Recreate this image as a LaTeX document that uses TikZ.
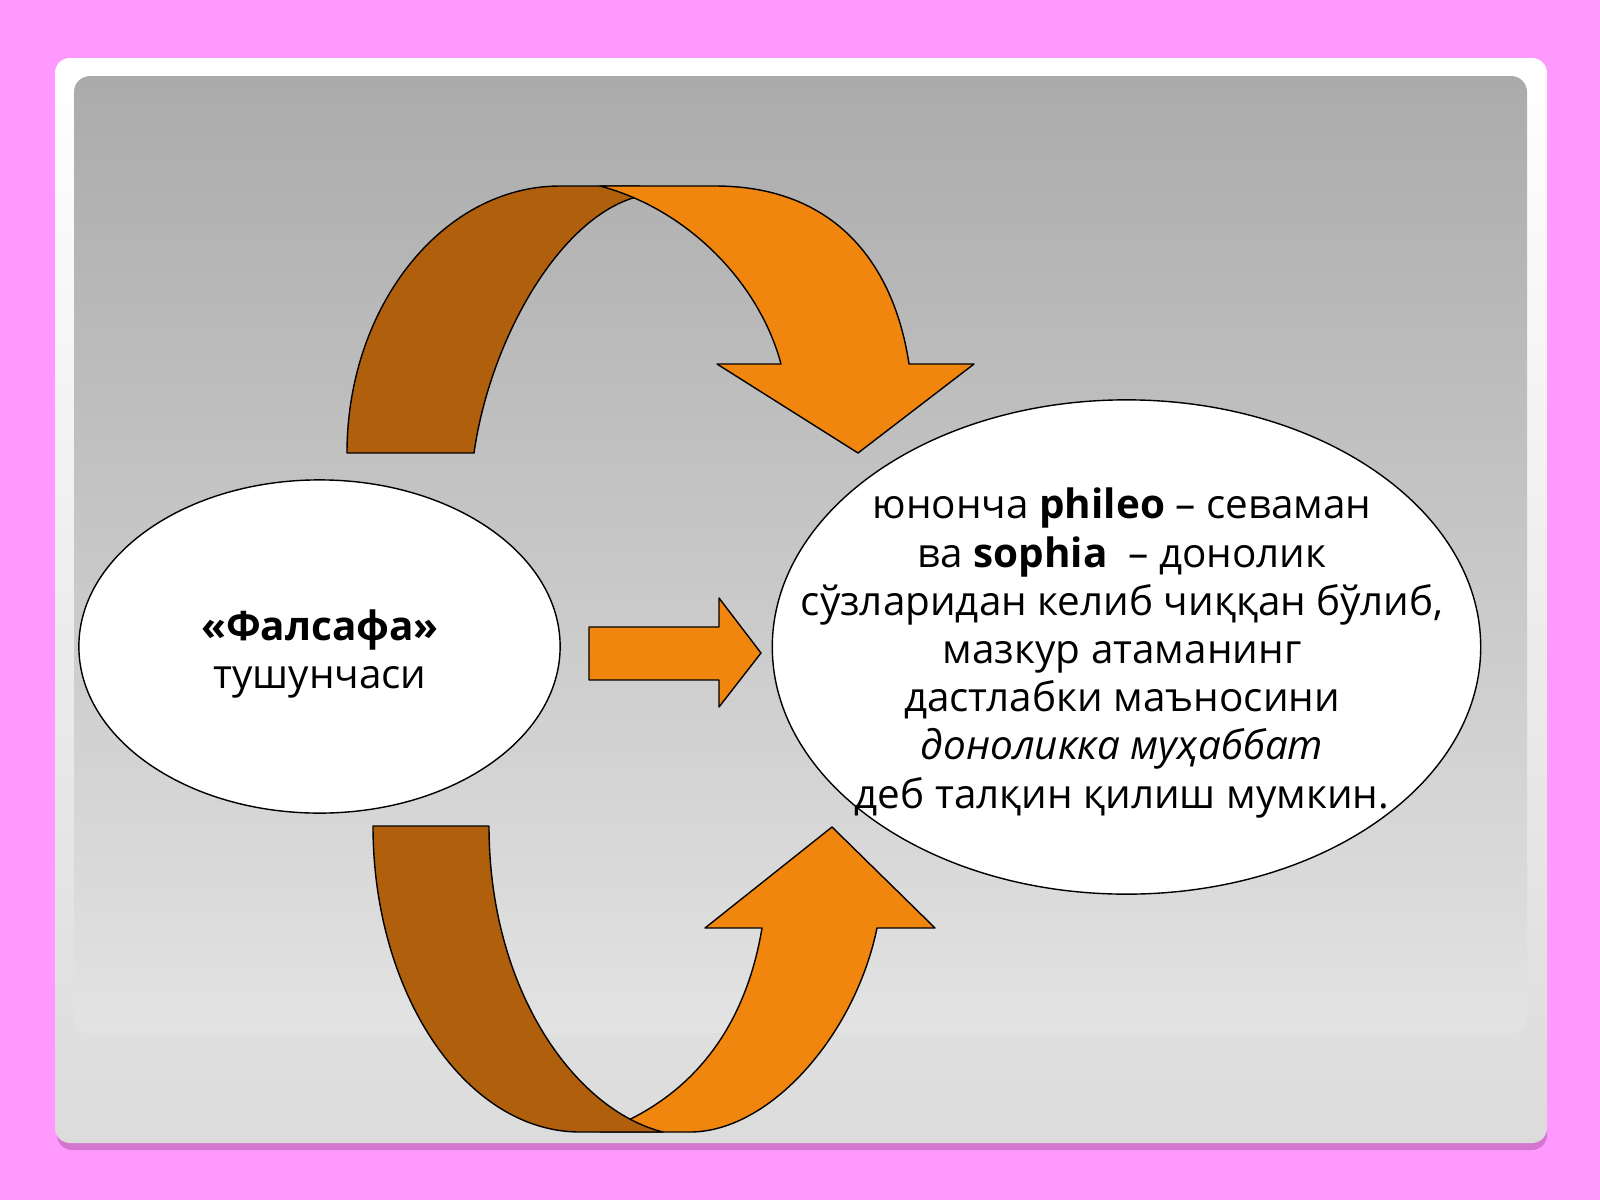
\documentclass[tikz,border=0pt]{standalone}
\usepackage{fontspec}
\setmainfont{Open Sans}
\usetikzlibrary{shapes.geometric}
\definecolor{slidepink}{RGB}{255,153,255}
\definecolor{pinkshadow}{RGB}{212,118,208}
\definecolor{bandlight}{RGB}{240,134,14}
\definecolor{banddark}{RGB}{176,96,12}
\begin{document}
\begin{tikzpicture}[x=0.01cm,y=-0.01cm,
    band/.style={draw=black,line width=0.4pt,line join=round},
    oval/.style={ellipse,draw=black,fill=white,line width=0.4pt,inner sep=0pt},
    txt/.style={align=center,inner sep=0pt,font=\fontsize{11.5}{13.7}\selectfont}]
    \useasboundingbox (0,0) rectangle (1600,1200);
    \fill[slidepink] (0,0) rectangle (1600,1200);
    \fill[pinkshadow,rounded corners=0.15cm] (57,64) rectangle (1547,1150);
    \shade[top color=white,bottom color=gray!28,rounded corners=0.15cm] (55,58) rectangle (1547,1143);
    \shade[top color=gray!66,bottom color=gray!22,rounded corners=0.16cm] (74,76) rectangle (1527,1033);
    \draw[band,fill=banddark] (347,453) -- (474,453) .. controls (490,340) and (560,215) .. (640,196)
        -- (640,186) -- (560,186) .. controls (443,186) and (347,306) .. (347,453) -- cycle;
    \draw[band,fill=bandlight] (600,186) -- (715,186) .. controls (840,186) and (895,270) .. (909,364)
        -- (974,364) -- (858,453) -- (717,364) -- (781,364) .. controls (760,285) and (690,210) .. (600,186) -- cycle;
    \draw[band,fill=bandlight] (600,1132) -- (690,1132) .. controls (770,1132) and (855,1035) .. (877,928)
        -- (935,928) -- (832,827) -- (705,928) -- (762,928) .. controls (745,1030) and (690,1100) .. (600,1132) -- cycle;
    \draw[band,fill=banddark] (373,826) -- (489,826) .. controls (489,990) and (575,1110) .. (663,1132)
        -- (580,1132) .. controls (466,1132) and (373,994) .. (373,826) -- cycle;
    \draw[band,fill=bandlight] (589,627) -- (719,627) -- (719,598) -- (761,653) -- (719,707) -- (719,680) -- (589,680) -- cycle;
    \node[oval,minimum width=4.81cm,minimum height=3.33cm] (falsafa) at (319.5,646.5) {};
    \node[oval,minimum width=7.08cm,minimum height=4.94cm] (talqin) at (1126.5,647) {};
    \node[txt] (falsafatext) at (320,654) {\textbf{«Фалсафа»}\\тушунчаси};
    \node[txt] (talqintext) at (1122,653) {юнонча \textbf{phileo} – севаман\\
        ва \textbf{sophia}\ \ – донолик\\
        сўзларидан келиб чиққан бўлиб,\\
        мазкур атаманинг\\
        дастлабки маъносини\\
        \textit{доноликка муҳаббат}\\
        деб талқин қилиш мумкин.};
\end{tikzpicture}
\end{document}
